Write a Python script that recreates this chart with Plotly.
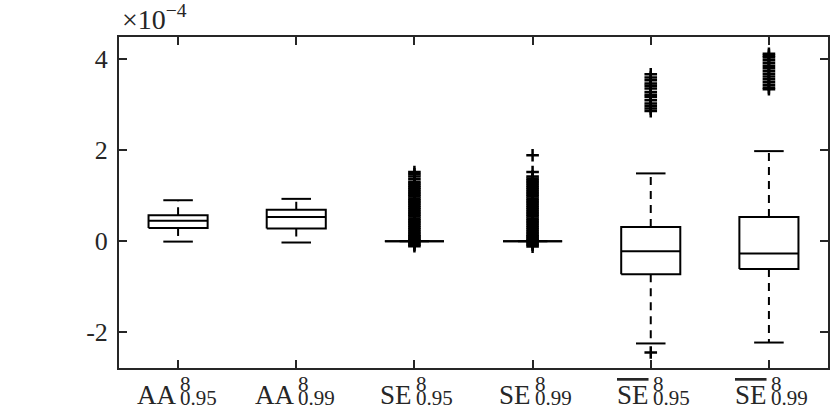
import plotly.graph_objects as go

# ---- data (values in units of 1e-4) ----
positions = [1, 2, 3, 4, 5, 6]
label_base = ["AA", "AA", "SE", "SE", "SE", "SE"]
label_sup = ["8", "8", "8", "8", "8", "8"]
label_sub = ["0.95", "0.99", "0.95", "0.99", "0.95", "0.99"]
label_overline = [False, False, False, False, True, True]

q1 = [0.29, 0.28, 0.0, 0.0, -0.73, -0.61]
median = [0.45, 0.53, 0.0, 0.0, -0.22, -0.27]
q3 = [0.57, 0.69, 0.0, 0.0, 0.31, 0.53]
lower_whisker = [-0.01, -0.03, 0.0, 0.0, -2.25, -2.23]
upper_whisker = [0.90, 0.93, 0.0, 0.0, 1.49, 1.98]

outliers_aa95 = []
outliers_aa99 = []
outliers_se95 = [-0.11, -0.08, -0.05, -0.02, 0.02, 0.05, 0.08, 0.11, 0.14, 0.18, 0.22,
                 0.26, 0.30, 0.34, 0.38, 0.42, 0.46, 0.50, 0.54, 0.58, 0.62, 0.66,
                 0.70, 0.74, 0.78, 0.82, 0.86, 0.90, 0.94, 0.98, 1.02, 1.06, 1.10,
                 1.14, 1.18, 1.22, 1.26, 1.30, 1.36, 1.42, 1.47, 1.52]
outliers_se99 = [-0.12, -0.08, -0.05, -0.02, 0.02, 0.05, 0.08, 0.11, 0.14, 0.18, 0.22,
                 0.26, 0.30, 0.34, 0.38, 0.42, 0.46, 0.50, 0.54, 0.58, 0.62, 0.66,
                 0.70, 0.74, 0.78, 0.82, 0.86, 0.90, 0.94, 0.98, 1.02, 1.06, 1.10,
                 1.14, 1.18, 1.22, 1.26, 1.30, 1.34, 1.38, 1.42, 1.52, 1.89]
outliers_sebar95 = [-2.45, 2.86, 2.92, 2.97, 3.03, 3.10, 3.17, 3.22, 3.28, 3.36,
                    3.42, 3.47, 3.54, 3.60, 3.67]
outliers_sebar99 = [3.34, 3.38, 3.44, 3.50, 3.56, 3.62, 3.68, 3.74, 3.80, 3.86,
                    3.92, 3.98, 4.04, 4.08, 4.12]
outliers = [outliers_aa95, outliers_aa99, outliers_se95, outliers_se99,
            outliers_sebar95, outliers_sebar99]

ytick_vals = [-2, 0, 2, 4]
ytick_text = ["-2", "0", "2", "4"]
exponent_base = "×10"
exponent_power = "−4"

# ---- style ----
BOX_HALF = 0.25
CAP_HALF = 0.125
LINE_W = 2
AXIS_COLOR = "#262626"
FONT = "Liberation Serif"

fig = go.Figure()

for i, p in enumerate(positions):
    # box outline
    fig.add_trace(go.Scatter(
        x=[p - BOX_HALF, p + BOX_HALF, p + BOX_HALF, p - BOX_HALF, p - BOX_HALF],
        y=[q1[i], q1[i], q3[i], q3[i], q1[i]],
        mode="lines", line=dict(color="black", width=LINE_W),
        showlegend=False, hoverinfo="skip"))
    # median
    fig.add_trace(go.Scatter(
        x=[p - BOX_HALF, p + BOX_HALF], y=[median[i], median[i]],
        mode="lines", line=dict(color="black", width=LINE_W),
        showlegend=False, hoverinfo="skip"))
    # whiskers (dashed)
    fig.add_trace(go.Scatter(
        x=[p, p, None, p, p],
        y=[q3[i], upper_whisker[i], None, q1[i], lower_whisker[i]],
        mode="lines", line=dict(color="black", width=LINE_W, dash="8px,6px"),
        showlegend=False, hoverinfo="skip"))
    # caps
    fig.add_trace(go.Scatter(
        x=[p - CAP_HALF, p + CAP_HALF, None, p - CAP_HALF, p + CAP_HALF],
        y=[upper_whisker[i], upper_whisker[i], None, lower_whisker[i], lower_whisker[i]],
        mode="lines", line=dict(color="black", width=LINE_W),
        showlegend=False, hoverinfo="skip"))
    # outliers
    if outliers[i]:
        fig.add_trace(go.Scatter(
            x=[p] * len(outliers[i]), y=outliers[i], mode="markers",
            marker=dict(symbol="cross-thin-open", size=9, color="black",
                        line=dict(color="black", width=2.5)),
            showlegend=False, hoverinfo="skip"))

# x tick labels: base text + stacked superscript/subscript
for i, p in enumerate(positions):
    base = label_base[i]
    if label_overline[i]:
        base = "<span style='text-decoration:overline'>" + base + "</span>"
    fig.add_annotation(x=p, y=0, xref="x", yref="paper", text=base,
                       xanchor="right", yanchor="top", xshift=-1, yshift=-11,
                       borderpad=0,
                       showarrow=False, font=dict(family=FONT, size=27, color=AXIS_COLOR))
    scripts = ("<span style='font-size:21px'>" + label_sup[i] + "</span><br>"
               "<span style='font-size:21px'>" + label_sub[i] + "</span>")
    fig.add_annotation(x=p, y=0, xref="x", yref="paper", text=scripts, align="left",
                       xanchor="left", yanchor="top", xshift=1, yshift=-3,
                       borderpad=0,
                       showarrow=False, font=dict(family=FONT, size=10.6, color=AXIS_COLOR))

fig.add_annotation(x=0, y=1, xref="paper", yref="paper",
                   text=exponent_base + "<sup>" + exponent_power + "</sup>",
                   xanchor="left", yanchor="bottom", xshift=1, yshift=0,
                   showarrow=False, font=dict(family=FONT, size=28, color=AXIS_COLOR))

fig.update_layout(
    width=830, height=417,
    margin=dict(l=119, r=2, t=37, b=49, autoexpand=False),
    paper_bgcolor="white", plot_bgcolor="white",
    font=dict(family=FONT, size=24, color=AXIS_COLOR),
    showlegend=False,
)
fig.update_xaxes(range=[0.5, 6.5], tickvals=positions, showticklabels=False,
                 ticks="inside", ticklen=8, tickwidth=1.5, tickcolor=AXIS_COLOR,
                 showline=True, linecolor=AXIS_COLOR, linewidth=2, mirror="ticks",
                 showgrid=False, zeroline=False, automargin=False)
fig.update_yaxes(range=[-2.79, 4.49], tickvals=ytick_vals, ticktext=ytick_text,
                 ticks="inside", ticklen=8, tickwidth=1.5, tickcolor=AXIS_COLOR,
                 showline=True, linecolor=AXIS_COLOR, linewidth=2, mirror="ticks",
                 showgrid=False, zeroline=False, automargin=False,
                 ticklabelstandoff=4, tickfont=dict(family=FONT, size=26))

fig.write_html("out.html", config={"displayModeBar": False},
               post_script="document.body.style.margin='0';"
                           "document.body.style.overflow='hidden';")
